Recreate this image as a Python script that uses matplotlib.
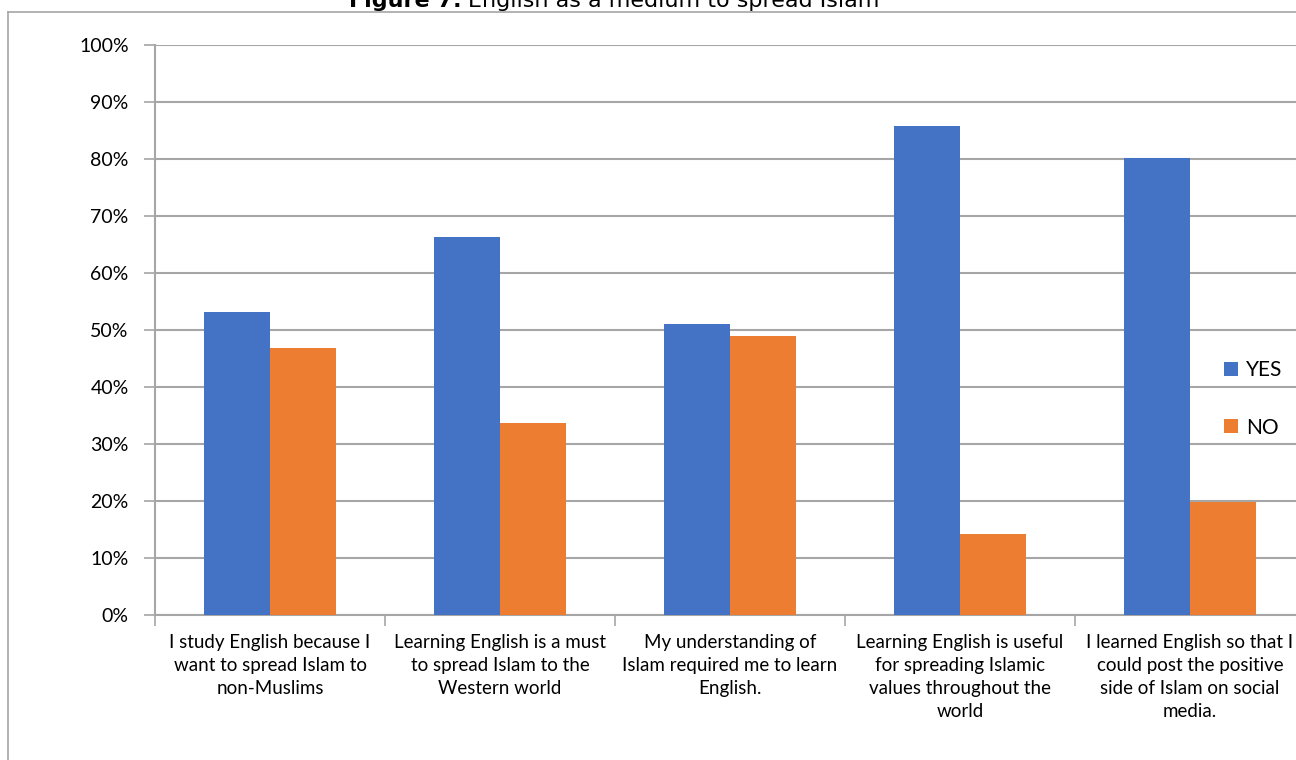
import numpy as np
import matplotlib
matplotlib.use('Agg')
import matplotlib.pyplot as plt
from matplotlib.lines import Line2D
from matplotlib.ticker import PercentFormatter


# Survey statements and answer shares (percent).
statements = [
    'I study English because I\nwant to spread Islam to\nnon-Muslims',
    'Learning English is a must\nto spread Islam to the\nWestern world',
    'My understanding of\nIslam required me to learn\nEnglish.',
    'Learning English is useful\nfor spreading Islamic\nvalues throughout the\nworld',
    'I learned English so that I\ncould post the positive\nside of Islam on social\nmedia.',
]
yes = [53.1, 66.4, 51.1, 85.8, 80.2]
no = [46.9, 33.6, 48.9, 14.2, 19.8]

blue = '#4472C4'
orange = '#ED7D31'
grid_grey = '#A6A6A6'

plt.rcParams['font.family'] = ['Lato', 'DejaVu Sans']

W, H = 1296, 760
fig = plt.figure(figsize=(W / 100, H / 100), dpi=100)

# Plot area runs past the right edge, like the cropped chart.
ax = fig.add_axes([155 / W, 145 / H, 1150 / W, 570 / H])

x = np.arange(len(statements))
width = 0.285
ax.bar(x - width / 2, yes, width, color=blue, label='YES', zorder=3)
ax.bar(x + width / 2, no, width, color=orange, label='NO', zorder=3)

ax.set_xlim(-0.5, len(statements) - 0.5)
ax.set_ylim(0, 100)
ax.set_yticks(np.arange(0, 101, 10))
ax.yaxis.set_major_formatter(PercentFormatter(decimals=0))
ax.grid(axis='y', color=grid_grey, linewidth=1.5, zorder=0)

# Category ticks sit on group boundaries, labels in between.
ax.set_xticks(np.arange(-0.5, len(statements), 1.0))
ax.set_xticklabels([])
ax.set_xticks(x, minor=True)
ax.set_xticklabels(statements, minor=True, fontsize=13.5, linespacing=1.42)
ax.tick_params(axis='x', which='minor', length=0, pad=14)
ax.tick_params(axis='x', which='major', length=8, color=grid_grey, width=1.2)
ax.tick_params(axis='y', length=8, color=grid_grey, width=1.2,
               labelsize=14, pad=11)

for side in ['top', 'right']:
    ax.spines[side].set_visible(False)
ax.spines['left'].set_color(grid_grey)
ax.spines['left'].set_linewidth(1.5)
ax.spines['bottom'].set_color(grid_grey)
ax.spines['bottom'].set_linewidth(1.5)

ax.legend(loc='center left', bbox_to_anchor=(1214 / W, (H - 399) / H),
          bbox_transform=fig.transFigure, frameon=False, fontsize=15,
          handlelength=0.65, handleheight=0.65, handletextpad=0.4,
          labelspacing=1.8, borderpad=0)

# Chart frame, top and left edges visible.
fig.add_artist(Line2D([8 / W, 8 / W], [0, (H - 12) / H], color=grid_grey,
                      linewidth=1.2, transform=fig.transFigure))
fig.add_artist(Line2D([8 / W, 1], [(H - 12) / H, (H - 12) / H],
                      color=grid_grey, linewidth=1.2,
                      transform=fig.transFigure))

# Caption above the frame, partly clipped by the top edge.
fig.text(462 / W, (H - 1) / H, 'Figure 7:', ha='right', va='center',
         fontsize=16, fontweight='bold', family='DejaVu Sans')
fig.text(468 / W, (H - 1) / H, 'English as a medium to spread Islam',
         ha='left', va='center', fontsize=16, family='DejaVu Sans')

fig.savefig('out.png', dpi=100)
